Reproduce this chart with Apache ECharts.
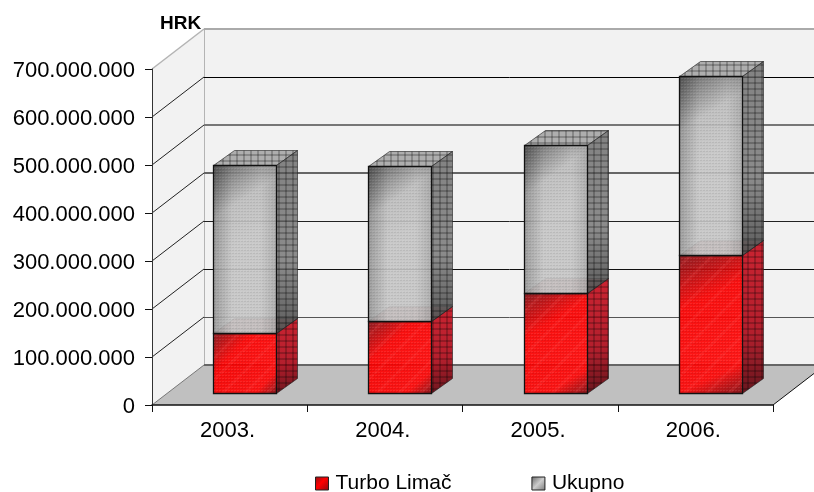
<!DOCTYPE html>
<html>
<head>
<meta charset="utf-8">
<style>
html,body{margin:0;padding:0;background:#fff}
#chart{width:814px;height:492px}
</style>
<script src="https://cdn.jsdelivr.net/npm/echarts@6/dist/echarts.min.js"></script>
</head>
<body>
<div id="chart"></div>
<script>
var years = ['2003.', '2004.', '2005.', '2006.'];
var turboLimac = [125000000, 150000000, 208000000, 288000000];
var ukupno = [350000000, 323000000, 309000000, 372000000];
var yTicks = [0, 100000000, 200000000, 300000000, 400000000, 500000000, 600000000, 700000000];
// back wall lines come out in uneven greys in the original, bottom to top
var lineColors = ['#666', '#555', '#111', '#222', '#666', '#777', '#000', '#aaa'];
var lineWidths = [2, 1, 1, 1, 2, 2, 1, 2];

var FONT = '"Liberation Sans", Arial, sans-serif';
// 3d look, pixels
var WALL_DX = 52, WALL_DY = -40;
var BAR_DX = 15, BAR_DY = -12;
var DEPTH_DX = 21, DEPTH_DY = -15;
var BAR_W = 63;

function fmt(v) {
	return String(v).replace(/\B(?=(\d{3})+$)/g, '.');
}

function makePattern(w, h, draw) {
	var c = document.createElement('canvas');
	c.width = w;
	c.height = h;
	draw(c.getContext('2d'));
	return { image: c, repeat: 'repeat' };
}
// fine dots on the front faces
var dots = makePattern(3, 3, function(g) {
	g.fillStyle = 'rgba(255,255,255,0.09)';
	g.fillRect(0, 0, 2, 1);
	g.fillStyle = 'rgba(0,0,0,0.07)';
	g.fillRect(1, 1, 2, 1);
});
// the cells on the side and top faces
var cells = makePattern(7, 6, function(g) {
	g.fillStyle = 'rgba(0,0,0,0.22)';
	g.fillRect(0, 4, 7, 2);
	g.fillRect(5, 0, 2, 6);
});
// the streaks across the red fronts
var streaks = makePattern(22, 22, function(g) {
	g.strokeStyle = 'rgba(255,90,90,0.16)';
	g.lineWidth = 3;
	g.beginPath();
	g.moveTo(-2, 24);
	g.lineTo(24, -2);
	g.stroke();
});

function lin(x, y, x2, y2, stops) {
	return {
		type: 'linear', x: x, y: y, x2: x2, y2: y2,
		colorStops: stops.map(function(s) {
			return { offset: s[0], color: s[1] };
		})
	};
}
var skin = {
	red: {
		front: lin(0, 0, 1, 1, [[0, 'rgba(135,15,20,0.93)'], [0.32, 'rgba(250,0,0,0.93)'], [0.82, 'rgba(255,8,8,0.93)'], [1, 'rgba(130,12,18,0.93)']]),
		shade: null,
		extra: streaks,
		side: lin(0, 0, 1, 1, [[0, 'rgba(200,20,35,0.93)'], [0.6, 'rgba(175,15,30,0.93)'], [1, 'rgba(95,10,18,0.93)']]),
		top: 'rgba(200,110,110,0.7)'
	},
	grey: {
		front: lin(0, 0, 1, 0, [[0, 'rgba(150,150,150,0.9)'], [0.3, 'rgba(200,200,200,0.9)'], [0.75, 'rgba(200,200,200,0.9)'], [1, 'rgba(170,170,170,0.9)']]),
		shade: lin(0, 0, 0.7, 0.4, [[0, 'rgba(0,0,0,0.5)'], [0.55, 'rgba(0,0,0,0.06)'], [1, 'rgba(0,0,0,0.02)']]),
		extra: null,
		side: lin(0, 0, 1, 1, [[0, 'rgba(115,115,115,0.88)'], [0.6, 'rgba(125,125,125,0.88)'], [1, 'rgba(70,70,70,0.88)']]),
		top: 'rgba(170,170,170,0.95)'
	}
};

function poly(pts, fill, stroke, w) {
	return {
		type: 'polygon',
		shape: { points: pts },
		style: { fill: fill, stroke: stroke || null, lineWidth: w || 1 }
	};
}
function seg(x1, y1, x2, y2, color, w) {
	return {
		type: 'line',
		shape: { x1: x1, y1: y1, x2: x2, y2: y2 },
		style: { stroke: color, lineWidth: w || 1 }
	};
}

function renderWalls(params, api) {
	var r = params.coordSys;
	var l = r.x, b = r.y + r.height, t = r.y, e = r.x + r.width;
	return {
		type: 'group',
		children: [
			poly([[l + WALL_DX, t + WALL_DY], [e + WALL_DX, t + WALL_DY], [e + WALL_DX, b + WALL_DY], [l + WALL_DX, b + WALL_DY]], '#f2f2f2'),
			poly([[l, t], [l + WALL_DX, t + WALL_DY], [l + WALL_DX, b + WALL_DY], [l, b]], '#f2f2f2'),
			poly([[l, b], [l + WALL_DX, b + WALL_DY], [e + WALL_DX, b + WALL_DY], [e, b]], '#c0c0c0'),
			seg(l, t, l + WALL_DX, t + WALL_DY, '#b4b4b4', 1.5),
			seg(l + WALL_DX + 0.5, t + WALL_DY, l + WALL_DX + 0.5, b + WALL_DY, '#b4b4b4'),
			seg(l, b, l + WALL_DX, b + WALL_DY, '#777'),
			seg(e, b, e + WALL_DX, b + WALL_DY, '#111')
		]
	};
}

function renderGridLine(params, api) {
	var r = params.coordSys;
	var i = params.dataIndex;
	var y = Math.round(api.coord([0, api.value(1)])[1]);
	var yb = y + WALL_DY + (lineWidths[i] === 1 ? 0.5 : 0);
	var kids = [seg(r.x + WALL_DX, yb, r.x + r.width + WALL_DX, yb, lineColors[i], lineWidths[i])];
	if (i > 0 && i < yTicks.length - 1) {
		kids.push(seg(r.x, y, r.x + WALL_DX, y + WALL_DY, '#222'));
	}
	return { type: 'group', children: kids };
}

function barRenderer(look) {
	return function(params, api) {
		var c0 = api.coord([api.value(0), api.value(1)]);
		var c1 = api.coord([api.value(0), api.value(2)]);
		var x0 = Math.round(c0[0] + BAR_DX - BAR_W / 2) + 0.5;
		var x1 = x0 + BAR_W;
		var yb = Math.round(c0[1] + BAR_DY) + 0.5;
		var yt = Math.round(c1[1] + BAR_DY) + 0.5;
		var front = [[x0, yt], [x1, yt], [x1, yb], [x0, yb]];
		var side = [[x1, yt], [x1 + DEPTH_DX, yt + DEPTH_DY], [x1 + DEPTH_DX, yb + DEPTH_DY], [x1, yb]];
		var top = [[x0, yt], [x0 + DEPTH_DX, yt + DEPTH_DY], [x1 + DEPTH_DX, yt + DEPTH_DY], [x1, yt]];
		var kids = [
			poly(top, look.top),
			poly(top, cells, 'rgba(30,30,30,0.6)'),
			poly(side, look.side),
			poly(side, cells, 'rgba(30,30,30,0.6)'),
			poly(front, look.front)
		];
		if (look.shade) {
			kids.push(poly(front, look.shade));
		}
		if (look.extra) {
			kids.push(poly(front, look.extra));
		}
		kids.push(poly(front, dots, '#111', 1.3));
		return { type: 'group', children: kids };
	};
}

var turboRows = years.map(function(y, i) {
	return [i, 0, turboLimac[i]];
});
var ukupnoRows = years.map(function(y, i) {
	return [i, turboLimac[i], turboLimac[i] + ukupno[i]];
});

var myChart = echarts.init(document.getElementById('chart'), null, { renderer: 'canvas' });
myChart.setOption({
	animation: false,
	backgroundColor: '#fff',
	textStyle: { fontFamily: FONT },
	title: {
		text: 'HRK',
		left: 160,
		top: 14,
		padding: 0,
		textStyle: { fontFamily: FONT, fontSize: 19, fontWeight: 'bold', color: '#000' }
	},
	grid: { left: 152, right: 41, top: 69, bottom: 87 },
	legend: {
		left: 315,
		top: 473,
		padding: 0,
		itemWidth: 13,
		itemHeight: 13,
		itemGap: 80,
		textStyle: { fontFamily: FONT, fontSize: 21, color: '#000', padding: [0, 0, 0, 2] },
		data: [
			{ name: 'Turbo Limač', icon: 'rect', itemStyle: { color: lin(0, 0, 1, 1, [[0, '#8c1015'], [0.45, '#ff0000'], [1, '#8c0a10']]), borderColor: '#222', borderWidth: 1 } },
			{ name: 'Ukupno', icon: 'rect', itemStyle: { color: lin(0, 0, 1, 1, [[0, '#666666'], [0.5, '#cccccc'], [1, '#777777']]), borderColor: '#222', borderWidth: 1 } }
		]
	},
	xAxis: {
		type: 'category',
		data: years,
		boundaryGap: true,
		axisLine: { lineStyle: { color: '#111', width: 1.5 } },
		axisTick: { show: true, length: 7, alignWithLabel: false, lineStyle: { color: '#111' } },
		axisLabel: { fontFamily: FONT, fontSize: 22, color: '#000', margin: 15, padding: [0, 4, 0, 0] },
		splitLine: { show: false },
		z: 10
	},
	yAxis: {
		type: 'value',
		min: 0,
		max: 700000000,
		interval: 100000000,
		axisLine: { show: true, lineStyle: { color: '#333', width: 1 } },
		axisTick: { show: true, length: 7, lineStyle: { color: '#111' } },
		axisLabel: {
			fontFamily: FONT, fontSize: 22, color: '#000', margin: 17,
			verticalAlign: 'top',
			lineHeight: 4,
			formatter: fmt
		},
		splitLine: { show: false },
		z: 10
	},
	series: [
		{ name: 'walls', type: 'custom', silent: true, z: 1, clip: false, renderItem: renderWalls, data: [[0, 0]] },
		{ name: 'lines', type: 'custom', silent: true, z: 2, clip: false, renderItem: renderGridLine, encode: { x: 0, y: 1 },
			data: yTicks.map(function(v) { return [0, v]; }) },
		{ name: 'Turbo Limač', type: 'custom', z: 3, clip: false, renderItem: barRenderer(skin.red), encode: { x: 0, y: [1, 2] }, data: turboRows },
		{ name: 'Ukupno', type: 'custom', z: 4, clip: false, renderItem: barRenderer(skin.grey), encode: { x: 0, y: [1, 2] }, data: ukupnoRows }
	]
});
</script>
</body>
</html>
